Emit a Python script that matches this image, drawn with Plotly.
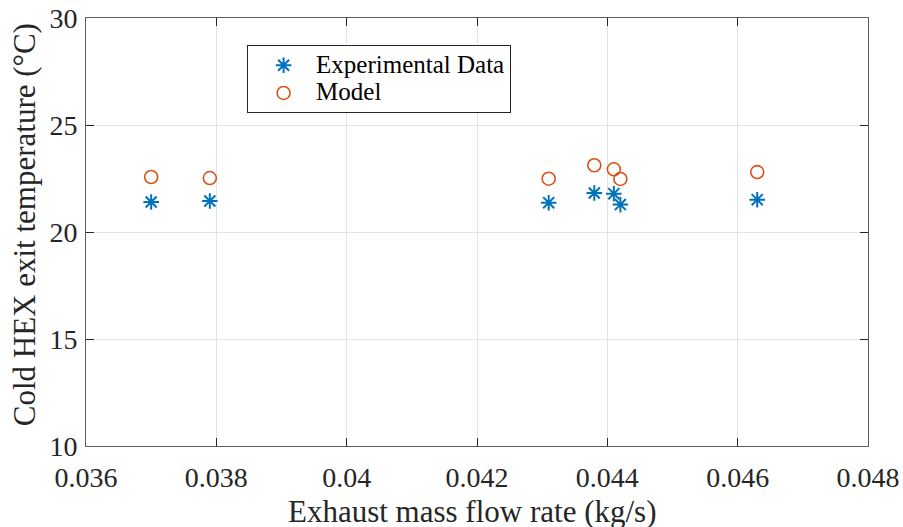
import plotly.graph_objects as go

# Exhaust mass flow rate (kg/s) for each test point
mass_flow = [0.0370, 0.0379, 0.0431, 0.0438, 0.0441, 0.0442, 0.0463]
# Cold HEX exit temperature (°C)
exp_temp = [21.40, 21.45, 21.37, 21.82, 21.79, 21.28, 21.51]
model_temp = [22.57, 22.52, 22.49, 23.12, 22.93, 22.48, 22.80]

x_ticks = [0.036, 0.038, 0.040, 0.042, 0.044, 0.046, 0.048]
x_tick_text = ["0.036", "0.038", "0.04", "0.042", "0.044", "0.046", "0.048"]
y_ticks = [10, 15, 20, 25, 30]

FONT = "Liberation Serif"
TEXT = "#262626"
BLUE = "#0072BD"
ORANGE = "#D95319"


def legend_label(s):
    # legend text drawn larger than the legend font so the rows stay compact
    return f'<span style="font-size:25px">{s}</span>'


fig = go.Figure()
fig.add_trace(go.Scatter(
    x=mass_flow, y=exp_temp, mode="markers", name=legend_label("Experimental Data"),
    marker=dict(symbol="asterisk-open", size=13, color=BLUE,
                line=dict(color=BLUE, width=2)),
))
fig.add_trace(go.Scatter(
    x=mass_flow, y=model_temp, mode="markers", name=legend_label("Model"),
    marker=dict(symbol="circle-open", size=13, color=ORANGE,
                line=dict(color=ORANGE, width=1.6)),
))

axis_common = dict(
    showline=True, linecolor="#5e5e5e", linewidth=1, mirror="ticks",
    ticks="inside", ticklen=8, tickcolor=TEXT, tickwidth=1,
    showgrid=True, gridcolor="#e3e3e3", gridwidth=1, zeroline=False,
    automargin=False,
    tickfont=dict(family=FONT, size=28, color=TEXT),
)

fig.update_xaxes(range=[0.036, 0.048], tickvals=x_ticks, ticktext=x_tick_text,
                 ticklabelstandoff=6, **axis_common)
fig.update_yaxes(range=[10, 30], tickvals=y_ticks, ticklabelstandoff=2,
                 **axis_common)

fig.add_annotation(text="Exhaust mass flow rate (kg/s)", xref="paper", yref="paper",
                   x=0.494, y=-0.152, xanchor="center", yanchor="middle",
                   showarrow=False, font=dict(family=FONT, size=31, color=TEXT))
fig.add_annotation(text="Cold HEX exit temperature (°C)", xref="paper", yref="paper",
                   x=-0.0793, y=0.518, xanchor="center", yanchor="middle",
                   textangle=-90, showarrow=False,
                   font=dict(family=FONT, size=31, color=TEXT))

fig.update_layout(
    width=903, height=527, autosize=False,
    margin=dict(l=86, r=35, t=18, b=81),
    paper_bgcolor="white", plot_bgcolor="white",
    font=dict(family=FONT, color=TEXT),
    showlegend=True,
    legend=dict(x=0.206, y=0.936, xanchor="left", yanchor="top",
                bgcolor="white", bordercolor=TEXT, borderwidth=1,
                font=dict(family=FONT, size=19, color="black"),
                indentation=3, itemwidth=55, tracegroupgap=0),
)

fig.write_html("out.html")
